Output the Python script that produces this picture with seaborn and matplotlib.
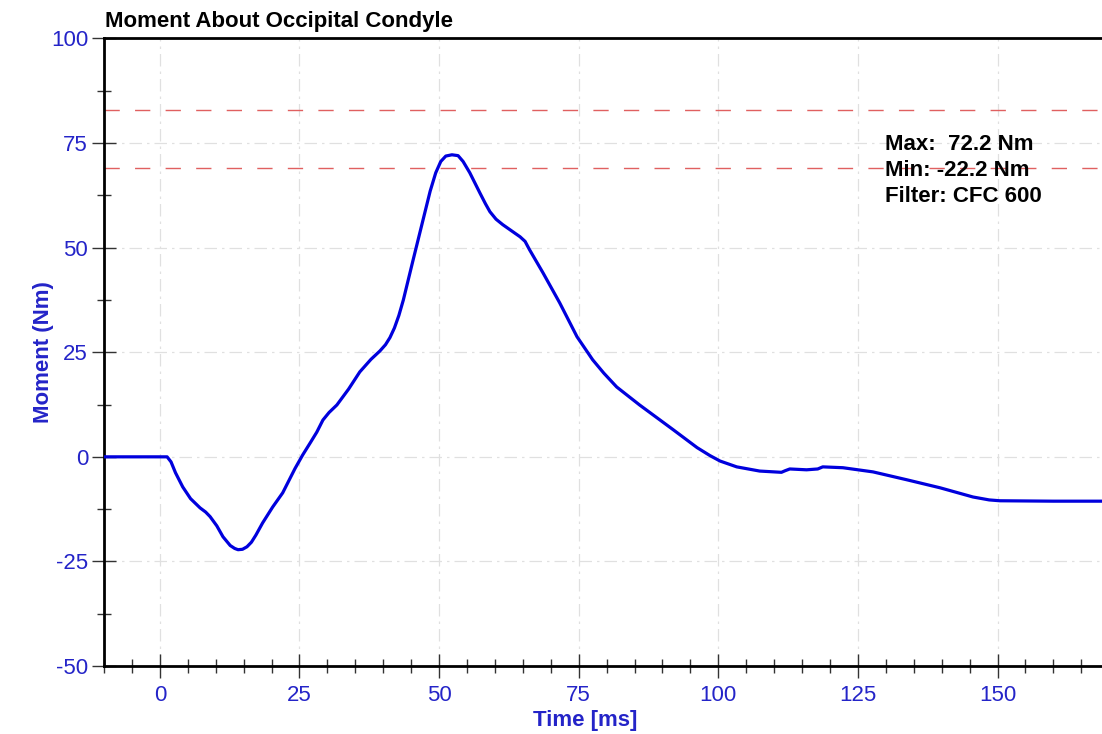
import matplotlib
matplotlib.use("Agg")
import matplotlib.pyplot as plt
import seaborn as sns
import pandas as pd
from matplotlib.ticker import MultipleLocator

# ---- data ----
time_ms = [-10, 0, 1.3, 2.0, 2.8, 4.1, 5.5, 7.2, 8.2, 9.0, 10.2, 11.3, 12.6, 13.4,
           14.0, 14.8, 15.6, 16.4, 17.2, 18.4, 20.2, 22.0, 24.2, 25.6, 27.0, 28.1,
           29.2, 30.3, 31.7, 33.8, 35.8, 37.8, 39.4, 40.4, 41.2, 42.0, 42.8, 43.6,
           45.3, 47.1, 48.4, 49.4, 50.3, 51.2, 52.3, 53.4, 54.3, 55.5, 57.3, 58.3,
           59.1, 60.2, 61.4, 63.0, 64.5, 65.4, 66.2, 68.6, 71.6, 74.7, 77.5, 79.5,
           81.8, 85.9, 91.9, 96.2, 98.5, 100.3, 103.3, 107.4, 111.3, 112.0, 112.8,
           115.8, 117.8, 118.7, 122.3, 127.7, 133.8, 139.7, 145.6, 148.5, 150.4,
           160.0, 168.7]
moment_nm = [0, 0, 0, -1.2, -3.8, -7.2, -10.0, -12.2, -13.2, -14.3, -16.5, -19.1,
             -21.2, -21.9, -22.2, -22.1, -21.5, -20.4, -18.7, -15.8, -12.0, -8.6,
             -2.8, 0.5, 3.5, 5.9, 8.8, 10.6, 12.4, 16.2, 20.3, 23.3, 25.3, 26.8,
             28.5, 30.8, 33.8, 37.5, 46.8, 56.5, 63.5, 67.9, 70.6, 71.9, 72.2, 72.0,
             70.6, 67.9, 63.1, 60.5, 58.6, 56.8, 55.5, 54.0, 52.6, 51.5, 49.5, 44.0,
             36.8, 28.7, 23.2, 20.0, 16.7, 12.4, 6.5, 2.2, 0.3, -1.0, -2.4, -3.4,
             -3.7, -3.3, -2.9, -3.1, -2.9, -2.4, -2.6, -3.6, -5.5, -7.4, -9.6, -10.3,
             -10.5, -10.6, -10.6]
limit_lines = [83, 69]
x_ticks = [0, 25, 50, 75, 100, 125, 150]
y_ticks = [-50, -25, 0, 25, 50, 75, 100]
title = "Moment About Occipital Condyle"
x_label = "Time [ms]"
y_label = "Moment (Nm)"
info_lines = ["Max:  72.2 Nm", "Min: -22.2 Nm", "Filter: CFC 600"]

df = pd.DataFrame({"t": time_ms, "m": moment_nm})

sns.set_style("white")
plt.rcParams["font.family"] = ["Liberation Sans", "DejaVu Sans"]

fig = plt.figure(figsize=(11.02, 7.34), dpi=100)
ax = fig.add_axes([104 / 1102, 1 - 666 / 734, 1 - 104 / 1102, (666 - 38.5) / 734])

blue_txt = "#2424C8"

# grid
for xv in x_ticks:
    ax.axvline(xv, color="#E0E0E0", lw=0.9, ls=(0, (10, 4, 2, 4)), zorder=0)
for yv in y_ticks:
    ax.axhline(yv, color="#E0E0E0", lw=0.9, ls=(0, (10, 4, 2, 4)), zorder=0)

for lv in limit_lines:
    ax.axhline(lv, color="#E06060", lw=1.0, ls=(0, (11, 11)), zorder=1)

sns.lineplot(data=df, x="t", y="m", ax=ax, color="#0000DD", lw=2.3,
             sort=False, zorder=3)

ax.set_xlim(-10, 168.7)
ax.set_ylim(-50, 100)
ax.set_xticks(x_ticks)
ax.set_yticks(y_ticks)
ax.xaxis.set_minor_locator(MultipleLocator(5))
ax.yaxis.set_minor_locator(MultipleLocator(12.5))
ax.set_xticklabels([str(v) for v in x_ticks])
ax.set_yticklabels([str(v) for v in y_ticks])

ax.tick_params(axis="both", which="both", bottom=True, left=True, top=False,
               right=False)
ax.tick_params(axis="both", which="major", direction="inout", length=17,
               width=1.0, color="#333333", labelsize=16, labelcolor=blue_txt)
ax.tick_params(axis="both", which="minor", direction="inout", length=9.5,
               width=1.0, color="#333333")
ax.tick_params(axis="x", which="major", pad=5)
ax.tick_params(axis="y", which="major", pad=3)

for s in ["left", "bottom", "top"]:
    ax.spines[s].set_linewidth(2.0)
    ax.spines[s].set_color("black")
ax.spines["right"].set_visible(False)

ax.set_xlabel(x_label, fontsize=16, fontweight="bold", color=blue_txt)
ax.set_ylabel(y_label, fontsize=16, fontweight="bold", color=blue_txt)
ax.xaxis.set_label_coords(0.482, -0.07)
ax.yaxis.set_label_coords(-0.05, 0.5)

fig.text(105 / 1102, 1 - 27 / 734, title, fontsize=16, fontweight="bold",
         color="black", ha="left", va="baseline")

for i, line in enumerate(info_lines):
    fig.text(885 / 1102, 1 - (145 + 26 * i) / 734, line, fontsize=16,
             fontweight="bold", color="black", ha="left", va="center", zorder=5)

fig.savefig("out.png", dpi=100)
